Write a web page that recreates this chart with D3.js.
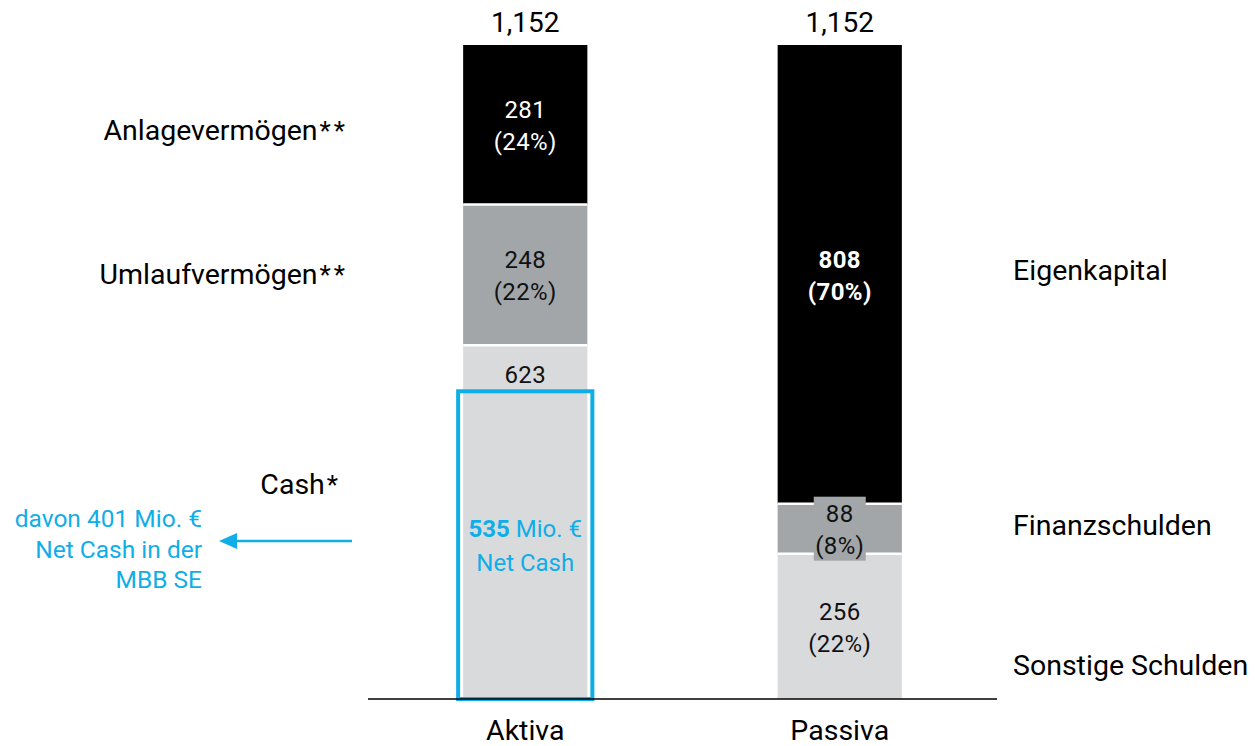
<!DOCTYPE html>
<html>
<head>
<meta charset="utf-8">
<script src="https://cdn.jsdelivr.net/npm/d3@7"></script>
<style>
  html, body { margin: 0; padding: 0; background: #fff; }
  svg { display: block; font-family: Roboto, "Liberation Sans", sans-serif; }
</style>
</head>
<body>
<svg id="chart" width="1255" height="746"></svg>
<script>
// Balance sheet (Mio. €)
const categories = ["Aktiva", "Passiva"];
const total = 1152;

// Segments stacked bottom to top
const aktivaLabels = ["Cash", "Umlaufvermögen", "Anlagevermögen"];
const aktivaMarks = ["*", "**", "**"];
const aktivaValues = [623, 248, 281];
const aktivaShares = [null, "22%", "24%"];

const passivaLabels = ["Sonstige Schulden", "Finanzschulden", "Eigenkapital"];
const passivaValues = [256, 88, 808];
const passivaShares = ["22%", "8%", "70%"];

const netCash = 535;
const netCashParent = 401;
const noteLines = [`davon ${netCashParent} Mio. €`, "Net Cash in der", "MBB SE"];

const colors = { light: "#d9dadc", mid: "#a2a6a9", dark: "#000000", blue: "#10aee8" };
const segColors = [colors.light, colors.mid, colors.dark];

const svg = d3.select("#chart");

const x = d3.scaleBand()
  .domain(categories)
  .range([368, 997])
  .paddingInner(0.605)
  .paddingOuter(0.3025);

const y = d3.scaleLinear().domain([0, total]).range([699, 45]);

function stackOf(values) {
  let acc = 0;
  return values.map(v => { const s = { y0: acc, y1: acc + v, v }; acc += v; return s; });
}

const bars = [
  { cat: "Aktiva", segs: stackOf(aktivaValues), shares: aktivaShares },
  { cat: "Passiva", segs: stackOf(passivaValues), shares: passivaShares }
];

// Bars
bars.forEach(b => {
  const g = svg.append("g");
  g.selectAll("rect.seg")
    .data(b.segs)
    .join("rect")
    .attr("class", "seg")
    .attr("x", x(b.cat))
    .attr("width", x.bandwidth())
    .attr("y", d => y(d.y1))
    .attr("height", d => y(d.y0) - y(d.y1))
    .attr("fill", (d, i) => segColors[i]);
  // white separators between segments
  g.selectAll("line.sep")
    .data(b.segs.slice(1))
    .join("line")
    .attr("x1", x(b.cat))
    .attr("x2", x(b.cat) + x.bandwidth())
    .attr("y1", d => y(d.y0))
    .attr("y2", d => y(d.y0))
    .attr("stroke", "#fff")
    .attr("stroke-width", 2.5);
});

// Label background for the thin Finanzschulden segment
const fin = bars[1].segs[1];
const finCx = x("Passiva") + x.bandwidth() / 2;
const finCy = (y(fin.y0) + y(fin.y1)) / 2;
svg.append("rect")
  .attr("x", finCx - 26)
  .attr("width", 52)
  .attr("y", finCy - 32)
  .attr("height", 64)
  .attr("fill", colors.mid);

// Value labels inside segments
function twoLine(cx, cy, v, share, color, weight) {
  const t = svg.append("text")
    .attr("text-anchor", "middle")
    .attr("font-size", 24)
    .attr("letter-spacing", 0.4)
    .attr("fill", color)
    .attr("font-weight", weight);
  t.append("tspan").attr("x", cx).attr("y", cy - 6.5).text(d3.format(",")(v));
  t.append("tspan").attr("x", cx).attr("y", cy + 25.5).text(`(${share})`);
}

bars.forEach(b => {
  const cx = x(b.cat) + x.bandwidth() / 2;
  b.segs.forEach((s, i) => {
    if (!b.shares[i]) return;
    const cy = (y(s.y0) + y(s.y1)) / 2;
    const dark = segColors[i] === colors.dark;
    const bold = b.cat === "Passiva" && i === 2;
    twoLine(cx, cy, s.v, b.shares[i], dark ? "#fff" : "#111", bold ? 700 : 400);
  });
});

// Cash total near top of its segment
const cashSeg = bars[0].segs[0];
const aCx = x("Aktiva") + x.bandwidth() / 2;
svg.append("text")
  .attr("x", aCx)
  .attr("y", y(cashSeg.y1) + 38)
  .attr("text-anchor", "middle")
  .attr("font-size", 24)
  .attr("letter-spacing", 0.4)
  .attr("fill", "#111")
  .text(cashSeg.v);

// Net cash highlight box
const boxTop = y(netCash) - 4;
svg.append("rect")
  .attr("x", x("Aktiva") - 5)
  .attr("width", x.bandwidth() + 10)
  .attr("y", boxTop)
  .attr("height", y(0) - boxTop)
  .attr("fill", "none")
  .attr("stroke", colors.blue)
  .attr("stroke-width", 4);

const boxCy = (boxTop + y(0)) / 2;
const nc = svg.append("text")
  .attr("text-anchor", "middle")
  .attr("font-size", 24)
  .attr("fill", colors.blue);
const l1 = nc.append("tspan").attr("x", aCx).attr("y", boxCy - 8);
l1.append("tspan").attr("font-weight", 700).text(netCash);
l1.append("tspan").text(" Mio. €");
nc.append("tspan").attr("x", aCx).attr("y", boxCy + 26).text("Net Cash");

// Baseline
svg.append("line")
  .attr("x1", 368).attr("x2", 997)
  .attr("y1", y(0)).attr("y2", y(0))
  .attr("stroke", "#000").attr("stroke-width", 1.5);

// Category axis
const xAxis = svg.append("g")
  .attr("transform", `translate(0,${y(0)})`)
  .call(d3.axisBottom(x).tickSize(0).tickPadding(0));
xAxis.select(".domain").remove();
xAxis.selectAll("text")
  .attr("font-size", 28.5)
  .attr("font-family", "Roboto, 'Liberation Sans', sans-serif")
  .attr("fill", "#000")
  .attr("dy", null)
  .attr("y", 41);

// Totals above bars
svg.selectAll("text.total")
  .data(categories)
  .join("text")
  .attr("class", "total")
  .attr("x", d => x(d) + x.bandwidth() / 2)
  .attr("y", 32)
  .attr("text-anchor", "middle")
  .attr("font-size", 28)
  .attr("fill", "#000")
  .text(d3.format(",")(total));

// Side labels (asterisks set a little apart)
const leftY = [494, 284, 140];
aktivaLabels.forEach((lab, i) => {
  const t = svg.append("text")
    .attr("x", i === 0 ? 341 : 348)
    .attr("y", leftY[i])
    .attr("text-anchor", "end")
    .attr("font-size", 28.5)
    .attr("fill", "#000");
  t.append("tspan").text(lab);
  t.append("tspan")
    .attr("dx", 2)
    .attr("letter-spacing", 3)
    .attr("font-size", 26)
    .text(aktivaMarks[i]);
});
const rightY = [675, 535, 280];
passivaLabels.forEach((lab, i) => {
  svg.append("text")
    .attr("x", 1013)
    .attr("y", rightY[i])
    .attr("font-size", 28.5)
    .attr("fill", "#000")
    .text(lab);
});

// Note with arrow
const arrowY = 541;
svg.append("line")
  .attr("x1", 352).attr("x2", 232)
  .attr("y1", arrowY).attr("y2", arrowY)
  .attr("stroke", colors.blue)
  .attr("stroke-width", 2.5);
svg.append("path")
  .attr("d", d3.line()([[219, arrowY], [237, arrowY - 8], [237, arrowY + 8]]) + "Z")
  .attr("fill", colors.blue);

const note = svg.append("text")
  .attr("text-anchor", "end")
  .attr("font-size", 24.5)
  .attr("fill", colors.blue);
noteLines.forEach((t, i) => {
  note.append("tspan").attr("x", 202).attr("y", 527 + i * 30.5).text(t);
});
</script>
</body>
</html>
